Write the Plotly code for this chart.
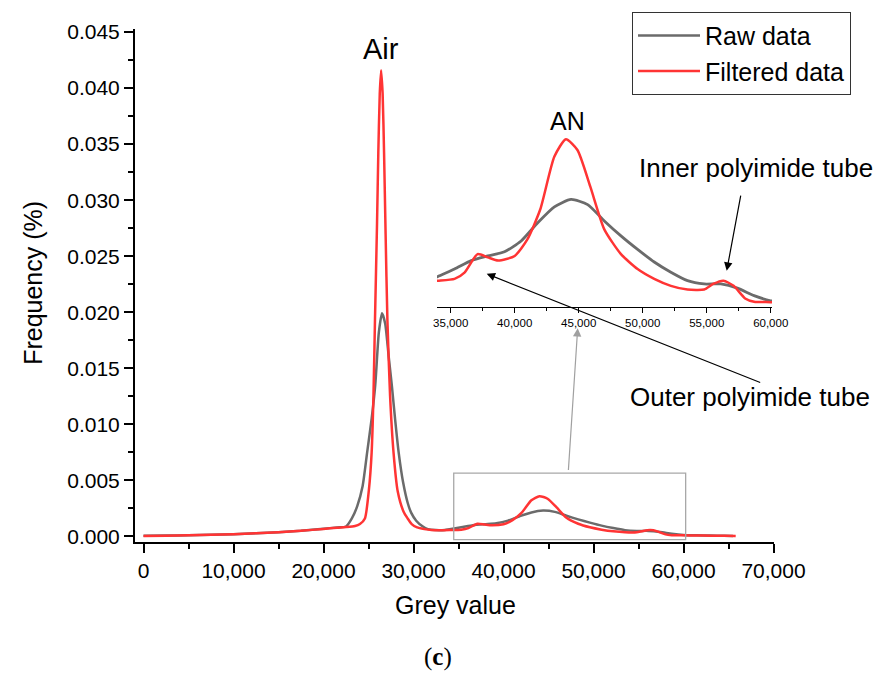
import plotly.graph_objects as go

# ---- data ----
raw_x = [0, 2500, 5000, 7500, 10000, 12500, 15000, 17500, 20000, 21500, 22500,
         23150, 23750, 24350, 24850, 25350, 25750, 26150, 26500, 26850, 27250,
         27600, 27950, 28350, 28850, 29350, 29750, 30300, 31000, 31600, 32500,
         33500, 34000, 35300, 36600, 37900, 39200, 40500, 41800, 43100, 44400,
         45700, 47000, 48300, 49600, 50900, 52200, 53500, 54800, 56100, 57400,
         58700, 60000, 61500, 63000, 64500, 65500]
raw_y = [0.00005, 0.00007, 0.0001, 0.00014, 0.0002, 0.00028, 0.00038, 0.0005,
         0.00068, 0.0008, 0.00088, 0.0016, 0.0027, 0.0045, 0.0075, 0.0105,
         0.0135, 0.0182, 0.0199, 0.0190, 0.0160, 0.0134, 0.0105, 0.0075,
         0.0048, 0.0030, 0.0021, 0.0014, 0.0009, 0.00065, 0.00056, 0.00058,
         0.00065, 0.00081, 0.00099, 0.00109, 0.00118, 0.00141, 0.0018, 0.00214,
         0.0023, 0.00219, 0.00184, 0.00152, 0.00123, 0.00096, 0.00074, 0.00056,
         0.00049, 0.00049, 0.0004, 0.00024, 0.00013, 0.0001, 0.00007, 0.00005,
         0.00004]

filt_x = [0, 2500, 5000, 7500, 10000, 12500, 15000, 17500, 20000, 21500, 22500,
          23500, 24050, 24600, 25050, 25350, 25550, 25720, 25950, 26090, 26250,
          26400, 26570, 26730, 26900, 27100, 27400, 27780, 28250, 28900, 29350,
          29800, 30400, 31200, 32000, 33000, 34000, 35300, 36100, 37100, 37900,
          38700, 40000, 41000, 42000, 43100, 44000, 44900, 45900, 47000, 48300,
          49600, 50900, 52200, 53500, 54800, 55500, 56300, 57100, 58000, 58700,
          60000, 61500, 63000, 64500, 65800]
filt_y = [0.00004, 0.00006, 0.0001, 0.00014, 0.0002, 0.00028, 0.00037, 0.0005,
          0.00067, 0.00078, 0.00083, 0.00092, 0.0011, 0.0016, 0.0042, 0.0075,
          0.0125, 0.0193, 0.0280, 0.0342, 0.0395, 0.0416, 0.0395, 0.0342,
          0.0270, 0.0193, 0.0125, 0.0075, 0.0040, 0.0022, 0.0016, 0.0011,
          0.0008, 0.00065, 0.00056, 0.00054, 0.00056, 0.0006, 0.00074, 0.00113,
          0.00106, 0.00099, 0.00109, 0.00145, 0.00209, 0.00322, 0.00359,
          0.00336, 0.00258, 0.00166, 0.00113, 0.00081, 0.0006, 0.00045,
          0.00037, 0.00037, 0.00049, 0.00056, 0.00045, 0.00018, 0.00011,
          0.0001, 0.00008, 0.00006, 0.00005, 0.00004]

series_names = ["Raw data", "Filtered data"]
main_xticks = [0, 10000, 20000, 30000, 40000, 50000, 60000, 70000]
inset_xticks = [35000, 40000, 45000, 50000, 55000, 60000]

# ---- layout geometry (pixels) ----
W, H = 877, 675
L, R, T, B = 135, 102, 29, 132.7
PW = W - L - R
PH = H - T - B

def px(x):
    return (x - L) / PW

def py(y):
    return (H - B - y) / PH

GREY = "#6b6b6b"
RED = "#ff3434"
FONT = "Liberation Sans"
SERIF = "Liberation Serif"

fig = go.Figure()
fig.add_trace(go.Scatter(x=raw_x, y=raw_y, name=series_names[0], mode="lines",
                         line=dict(color=GREY, width=2.5, shape="spline", smoothing=0.6)))
fig.add_trace(go.Scatter(x=filt_x, y=filt_y, name=series_names[1], mode="lines",
                         line=dict(color=RED, width=2.5, shape="spline", smoothing=0.6)))
fig.add_trace(go.Scatter(x=raw_x, y=raw_y, mode="lines", showlegend=False,
                         xaxis="x2", yaxis="y2",
                         line=dict(color=GREY, width=2.8, shape="spline", smoothing=0.6)))
fig.add_trace(go.Scatter(x=filt_x, y=filt_y, mode="lines", showlegend=False,
                         xaxis="x2", yaxis="y2",
                         line=dict(color=RED, width=2.5, shape="spline", smoothing=0.6)))

fig.update_layout(
    width=W, height=H,
    margin=dict(l=L, r=R, t=T, b=B, pad=0, autoexpand=False),
    paper_bgcolor="white", plot_bgcolor="white",
    font=dict(family=FONT, color="black"),
    showlegend=True,
    legend=dict(x=px(632), y=py(11.7), xanchor="left", yanchor="top",
                bgcolor="white", bordercolor="#333333", borderwidth=1,
                font=dict(size=25, family=FONT), itemwidth=62,
                tracegroupgap=0),
    xaxis=dict(domain=[0, px(773.5)], range=[-944, 70000],
               tickvals=main_xticks, tickformat=",d",
               showgrid=False, zeroline=False, showline=True,
               linecolor="black", linewidth=2, ticks="outside",
               ticklen=9, tickwidth=2, tickcolor="black",
               tickfont=dict(size=21, family=FONT),
               minor=dict(dtick=5000, ticks="outside", ticklen=5,
                          tickwidth=1.5, tickcolor="black"),
               anchor="y"),
    yaxis=dict(domain=[0, 1], range=[-0.0005, 0.04527],
               dtick=0.005, tick0=0, tickformat=".3f",
               showgrid=False, zeroline=False, showline=True,
               linecolor="black", linewidth=2, ticks="outside",
               ticklen=9, tickwidth=2, tickcolor="black",
               tickfont=dict(size=21, family=FONT),
               minor=dict(dtick=0.0025, ticks="outside", ticklen=5,
                          tickwidth=1.5, tickcolor="black"),
               anchor="x"),
    xaxis2=dict(domain=[px(437), px(772)], range=[33930, 60100],
                tickvals=inset_xticks, tickformat=",d",
                showgrid=False, zeroline=False, showline=True,
                linecolor="black", linewidth=1, ticks="outside",
                ticklen=5, tickwidth=1, tickcolor="black",
                tickfont=dict(size=11.5, family=FONT),
                minor=dict(dtick=2500, ticks="outside", ticklen=3,
                           tickwidth=1, tickcolor="black"),
                anchor="y2"),
    yaxis2=dict(domain=[py(307), py(129)], range=[0, 0.00381],
                visible=False, anchor="x2"),
)

# rectangle marking the zoomed region
fig.add_shape(type="rect", xref="x", yref="y",
              x0=34470, x1=60240, y0=-0.00029, y1=0.00565,
              line=dict(color="#a8a8a8", width=1.3), layer="above")

ann = []
def text(x, y, s, size, family=FONT):
    ann.append(dict(x=px(x), y=py(y), xref="paper", yref="paper", text=s,
                    showarrow=False, xanchor="center", yanchor="middle",
                    font=dict(size=size, family=family, color="black")))

text(381, 49, "Air", 29)
text(567, 121, "AN", 25)
text(756, 168, "Inner polyimide tube", 26)
text(750, 397.5, "Outer polyimide tube", 26)
text(455, 605, "Grey value", 25)
text(438, 657, "(<b>c</b>)", 25, SERIF)
ann.append(dict(x=px(33), y=py(283), xref="paper", yref="paper",
                text="Frequency (%)", showarrow=False, textangle=-90,
                xanchor="center", yanchor="middle",
                font=dict(size=25, family=FONT, color="black")))

def arrow(tip, tail, color):
    ann.append(dict(x=px(tip[0]), y=py(tip[1]), xref="paper", yref="paper",
                    ax=tail[0] - tip[0], ay=tail[1] - tip[1],
                    axref="pixel", ayref="pixel", text="", showarrow=True,
                    arrowhead=2, arrowsize=1.4, arrowwidth=1.2,
                    arrowcolor=color, standoff=0, startstandoff=0))

arrow((486.7, 274), (761.7, 383.3), "black")
arrow((726.7, 271), (741, 194.3), "black")
arrow((577.7, 328.3), (568.3, 471.7), "#a0a0a0")

fig.update_layout(annotations=ann)
fig.write_html("out.html", config={"displayModeBar": False},
               post_script="document.body.style.margin='0';document.body.style.padding='0';")
